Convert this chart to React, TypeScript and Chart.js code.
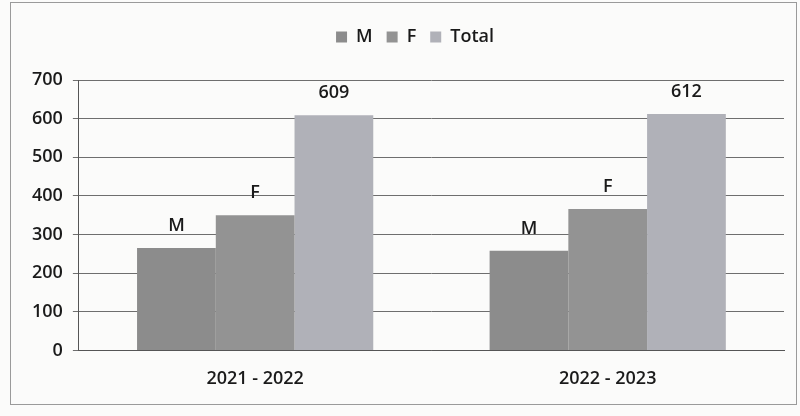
import React, { useEffect, useRef } from "react";
import { Chart, registerables } from "chart.js";

Chart.register(...registerables);

const categories = ["2021 - 2022", "2022 - 2023"];
const seriesNames = ["M", "F", "Total"];
const maleValues = [265, 258];
const femaleValues = [350, 366];
const totalValues = [609, 612];
const barLabels = [["M", "M"], ["F", "F"], ["609", "612"]];
const colors = ["#8c8c8c", "#939393", "#b0b1b8"];

const FONT = "'Open Sans', 'Liberation Sans', sans-serif";

const labelPlugin = {
  id: "barLabels",
  afterDatasetsDraw(chart: any) {
    const ctx = chart.ctx;
    ctx.save();
    ctx.font = `600 18px ${FONT}`;
    ctx.fillStyle = "#1a1a1a";
    ctx.textAlign = "center";
    ctx.textBaseline = "middle";
    chart.data.datasets.forEach((ds: any, di: number) => {
      const meta = chart.getDatasetMeta(di);
      meta.data.forEach((bar: any, i: number) => {
        ctx.fillText(barLabels[di][i], bar.x, bar.y - 22);
      });
    });
    ctx.restore();
  },
};

const framePlugin = {
  id: "frame",
  beforeDraw(chart: any) {
    const ctx = chart.ctx;
    ctx.save();
    ctx.fillStyle = "#fbfbfa";
    ctx.fillRect(0, 0, chart.width, chart.height);
    ctx.strokeStyle = "#9a9a9a";
    ctx.lineWidth = 1;
    ctx.strokeRect(10.5, 2.5, 786, 402);
    ctx.restore();
  },
};

const legendTweak = {
  id: "legendTweak",
  beforeInit(chart: any) {
    const legend = chart.legend;
    if (!legend) return;
    const origFit = legend.fit;
    legend.fit = function () {
      origFit.call(this);
      this.height += 24;
    };
    const origDraw = legend._draw;
    legend._draw = function () {
      this.left += 12;
      this.right += 12;
      origDraw.call(this);
      this.left -= 12;
      this.right -= 12;
    };
  },
};

export default function App() {
  const ref = useRef<HTMLCanvasElement>(null);
  useEffect(() => {
    if (!ref.current) return;
    const tickFont = { family: FONT, size: 18, weight: 600 as any };
    const chart = new Chart(ref.current, {
      type: "bar",
      data: {
        labels: categories,
        datasets: [
          { label: seriesNames[0], data: maleValues, backgroundColor: colors[0] },
          { label: seriesNames[1], data: femaleValues, backgroundColor: colors[1] },
          { label: seriesNames[2], data: totalValues, backgroundColor: colors[2] },
        ],
      },
      options: {
        animation: false,
        responsive: false,
        maintainAspectRatio: false,
        layout: { padding: { left: 22, right: 16, top: 14, bottom: 16 } },
        datasets: { bar: { categoryPercentage: 0.67, barPercentage: 1 } },
        plugins: {
          legend: {
            position: "top",
            labels: {
              boxWidth: 11,
              boxHeight: 11,
              padding: 14,
              color: "#1a1a1a",
              font: { family: FONT, size: 18, weight: 600 as any },
            },
          },
          tooltip: { enabled: false },
        },
        scales: {
          x: {
            grid: { display: false },
            border: { color: "#555" },
            ticks: { color: "#1a1a1a", font: tickFont, padding: 10 },
          },
          y: {
            min: 0,
            max: 700,
            ticks: { stepSize: 100, color: "#1a1a1a", font: tickFont, padding: 10 },
            grid: { color: "#6e6e6e", tickLength: 6 },
            border: { color: "#555" },
          },
        },
      },
      plugins: [framePlugin, labelPlugin, legendTweak],
    });
    return () => chart.destroy();
  }, []);
  return (
    <div style={{ position: "fixed", left: 0, top: 0, width: 800, height: 416 }}>
      <canvas ref={ref} width={800} height={416} style={{ display: "block" }} />
    </div>
  );
}
